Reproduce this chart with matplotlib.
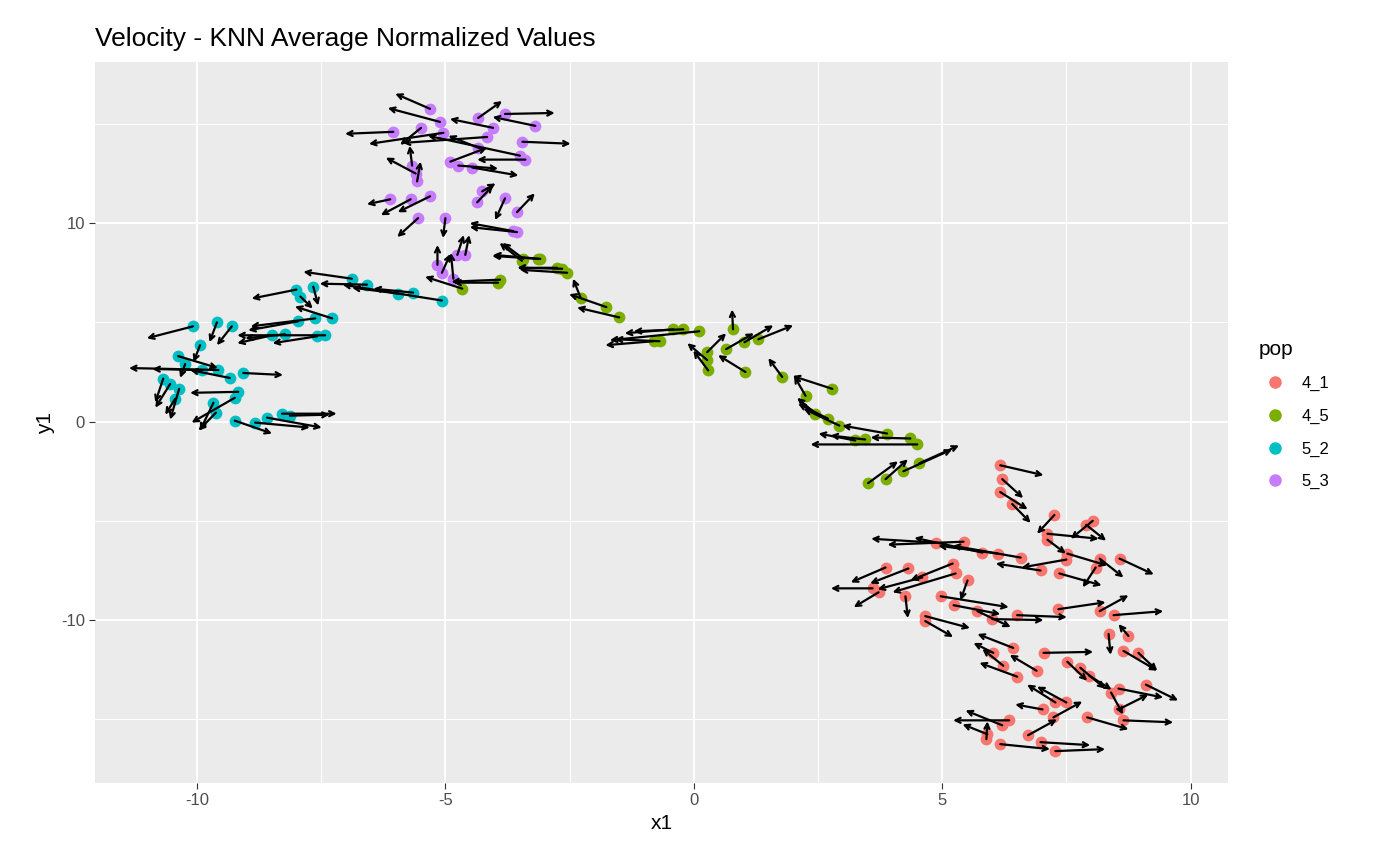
import matplotlib
matplotlib.use("Agg")
import matplotlib.pyplot as plt
from matplotlib.lines import Line2D
import numpy as np

plt.rcParams['font.family'] = ['Liberation Sans', 'DejaVu Sans']
plt.rcParams['axes.unicode_minus'] = False

pops = ["4_1", "4_5", "5_2", "5_3"]
colors = {"4_1": "#F8766D", "4_5": "#7CAE00", "5_2": "#00BFC4", "5_3": "#C77CFF"}

# 5_3 (purple)
x53 = [-5.31,-5.11,-5.49,-6.05,-5.04,-4.04,-4.16,-4.34,-3.80,-3.19,-3.45,-3.39,-3.50,-4.34,-5.67,-5.60,-5.57,
       -4.90,-4.74,-4.46,-6.11,-5.70,-5.31,-5.55,-5.00,-4.26,-4.36,-3.80,-3.56,-3.64,-3.56,-5.16,-5.07,-4.76,-4.60,-4.84]
y53 = [15.76,15.10,14.80,14.60,14.55,14.80,14.34,15.30,15.50,14.90,14.10,13.20,13.40,13.80,12.90,12.50,12.10,
       13.10,12.90,12.80,11.20,11.20,11.35,10.25,10.25,11.60,11.05,11.25,10.55,9.60,9.55,7.90,7.50,8.40,8.40,7.20]
dx53 = [-0.70,-1.05,-0.42,-0.97,-1.50,-0.87,-1.70,0.48,1.00,-0.86,0.97,-0.97,-1.85,-0.60,-0.05,-0.60,0.07,
        0.74,0.80,0.93,-0.47,-0.60,-0.65,-0.42,-0.05,0.27,0.32,-0.20,0.36,-0.87,-0.95,0.00,0.17,0.13,0.08,-0.05]
dy53 = [0.76,0.70,-0.86,-0.10,-0.56,0.45,-0.30,0.85,0.05,0.45,-0.10,0.00,1.00,0.60,1.00,0.80,1.00,
        0.70,-0.15,-0.40,-0.25,-0.80,-0.80,-0.95,-1.00,0.40,0.85,-1.10,0.95,0.40,0.25,1.00,0.95,1.00,1.00,1.30]

# 5_2 (cyan)
x52 = [-6.88,-6.58,-5.95,-5.65,-5.07,-8.00,-7.66,-7.92,-7.28,-7.62,-7.97,-7.42,-7.58,-8.23,-8.49,-10.08,-9.60,-9.30,
       -9.94,-10.38,-10.24,-9.90,-9.57,-9.34,-9.07,-10.68,-10.54,-10.36,-10.44,-9.17,-9.24,-9.67,-9.62,-9.24,-8.83,-8.59,-8.29,-8.13]
y52 = [7.20,6.90,6.45,6.50,6.10,6.65,6.80,6.30,5.20,5.20,5.05,4.35,4.30,4.40,4.35,4.80,5.00,4.80,
       3.85,3.30,2.90,2.60,2.60,2.20,2.45,2.17,1.90,1.65,1.15,1.50,1.20,0.95,0.45,0.05,-0.05,0.20,0.40,0.30]
dx52 = [-0.98,-0.95,-0.93,-0.80,-2.00,-0.90,0.10,0.25,-0.75,-1.30,-1.00,-1.77,-0.90,-0.80,-0.70,-0.93,-0.15,-0.30,
        -0.13,0.80,-0.10,-1.00,-1.80,-0.80,0.80,-0.16,-0.30,-0.18,-0.20,-0.97,-0.87,-0.27,-0.35,0.75,1.10,1.10,1.10,0.80]
dy52 = [0.35,0.05,0.30,0.20,0.80,-0.45,-0.95,-0.60,0.60,-0.40,-0.45,0.00,-0.35,-0.20,-0.40,-0.60,-1.00,-0.95,
        -0.85,-0.60,-0.70,0.05,0.10,0.40,-0.10,-1.20,-1.20,-1.55,-0.80,-0.05,-1.25,-1.40,-0.90,-0.65,-0.25,-0.50,0.00,0.05]

# 4_5 (green)
x45 = [-4.66,-3.94,-3.90,-3.43,-3.09,-2.65,-2.55,-3.13,-3.46,-2.75,-2.28,-1.76,-1.50,-0.41,-0.21,0.11,-0.81,-0.69,
       0.27,0.27,0.29,0.79,0.65,1.02,1.30,1.04,1.78,2.25,2.79,2.45,2.70,2.93,3.89,3.25,3.45,4.36,4.50,3.51,3.86,4.22,4.54]
y45 = [6.70,7.00,7.15,8.20,8.20,7.70,7.50,8.20,8.10,7.75,6.25,5.77,5.25,4.65,4.65,4.55,4.05,4.05,
       3.50,3.10,2.58,4.65,3.65,4.00,4.15,2.50,2.25,1.30,1.65,0.40,0.15,-0.20,-0.60,-0.95,-0.90,-0.85,-1.15,-3.10,-2.90,-2.50,-2.10]
dx45 = [-0.75,-0.90,-0.98,-0.42,-0.95,-0.90,-0.95,-0.93,-0.45,-0.80,-0.15,-0.75,-0.85,-0.98,-1.00,-1.80,-0.97,-0.90,
        0.38,-0.40,-0.30,-0.02,0.56,0.58,0.70,-0.55,-0.28,-0.23,-0.80,-0.37,-0.60,-0.72,-0.90,-0.74,-0.70,-0.80,-2.15,0.60,0.45,0.98,0.80]
dy45 = [0.60,0.00,-0.10,0.80,0.20,0.05,0.15,0.15,0.90,0.00,0.95,0.65,0.50,-0.20,-0.10,-0.45,-0.20,0.10,
        0.95,0.85,1.00,1.00,0.80,0.85,0.70,0.85,0.95,1.00,0.65,0.80,0.75,0.85,0.40,0.35,0.20,0.05,0.00,1.10,1.00,1.10,0.90]

# 4_1 (red)
x41 = [6.17,6.21,6.17,6.41,7.26,8.03,7.90,7.12,7.12,7.52,7.50,8.17,8.09,8.57,7.36,6.98,6.58,6.12,5.81,5.43,4.87,
       5.21,5.27,5.51,4.32,3.86,4.60,3.60,3.72,4.26,4.97,5.23,5.71,6.01,6.51,7.34,8.17,8.45,4.66,4.66,
       6.43,6.03,6.23,6.51,6.90,7.04,8.35,8.75,8.65,8.95,7.52,7.78,7.96,8.55,9.10,8.40,8.55,8.65,7.92,
       7.50,7.28,7.02,7.24,6.73,6.35,6.21,5.91,5.89,6.17,6.98,7.28]
y41 = [-2.20,-2.90,-3.55,-4.15,-4.70,-5.00,-5.20,-5.65,-5.95,-6.65,-6.95,-6.90,-7.35,-6.90,-7.65,-7.50,-6.85,-6.65,-6.60,-6.05,-6.10,
       -7.15,-7.65,-8.00,-7.40,-7.35,-7.85,-8.40,-8.60,-8.80,-8.80,-9.25,-9.55,-9.95,-9.75,-9.45,-9.55,-9.75,-9.80,-10.05,
       -11.40,-11.65,-12.30,-12.85,-12.55,-11.65,-10.70,-10.80,-11.55,-11.65,-12.10,-12.40,-12.80,-13.45,-13.25,-13.65,-14.50,-15.05,-14.90,
       -14.15,-14.15,-14.50,-14.90,-15.80,-15.05,-15.30,-15.75,-16.00,-16.25,-16.15,-16.60]
dx41 = [0.87,0.42,0.55,0.37,-0.35,-0.44,0.40,1.03,0.37,0.80,-0.90,0.48,-0.26,0.69,0.85,-0.90,-1.37,-1.20,-1.37,-1.53,-1.30,
        -0.85,-1.27,-0.14,-0.77,-0.70,-0.90,-0.84,-0.50,0.05,1.37,0.94,0.67,1.03,1.00,0.95,0.58,1.00,0.90,0.56,
        -0.72,-0.40,-0.42,-0.76,-0.54,1.00,0.04,-0.20,0.68,0.38,0.40,0.50,0.45,0.90,0.65,0.24,0.60,1.00,0.83,
        -0.59,-0.57,-0.55,0.58,0.58,-1.13,-0.74,-0.50,0.02,1.00,1.00,1.00]
dy41 = [-0.50,-0.95,-0.87,-0.95,-0.95,-0.90,-0.80,-0.25,-0.70,-0.60,-0.40,-0.95,-1.00,-0.80,-0.60,0.35,0.60,0.40,0.75,-0.15,0.20,
        -0.85,-0.95,-1.00,-0.75,-0.75,-0.60,0.00,-0.75,-1.10,-0.55,-0.45,-0.80,-0.05,-0.10,0.35,0.80,0.20,-0.60,-0.80,
        0.70,0.50,0.85,0.70,0.80,0.05,-1.05,0.60,-1.00,-0.90,-0.95,-1.05,-0.70,-0.45,-0.80,-1.10,0.75,-0.10,-0.60,
        0.80,0.90,0.25,0.80,0.80,0.00,0.75,0.50,0.90,-0.25,-0.15,0.10]

data = {"4_1": (x41, y41, dx41, dy41), "4_5": (x45, y45, dx45, dy45),
        "5_2": (x52, y52, dx52, dy52), "5_3": (x53, y53, dx53, dy53)}

fig = plt.figure(figsize=(14, 8.66), dpi=100)
ax = fig.add_axes([0.068, 0.096, 0.809, 0.832])
ax.set_facecolor("#EBEBEB")
ax.set_xlim(-12.05, 10.75)
ax.set_ylim(-18.2, 18.1)
ax.set_xticks([-10, -5, 0, 5, 10])
ax.set_yticks([-10, 0, 10])
ax.set_xticks([-7.5, -2.5, 2.5, 7.5], minor=True)
ax.set_yticks([-15, -5, 5, 15], minor=True)
ax.grid(True, which="major", color="white", linewidth=1.4)
ax.grid(True, which="minor", color="white", linewidth=0.7)
ax.set_axisbelow(True)
for s in ax.spines.values():
    s.set_visible(False)
ax.tick_params(which="both", length=4, color="#333333", labelsize=12, labelcolor="#4D4D4D")
ax.tick_params(which="minor", length=0)

for p in pops:
    xs, ys, dxs, dys = data[p]
    ax.scatter(xs, ys, s=72, color=colors[p], zorder=2, linewidths=0)
for p in pops:
    xs, ys, dxs, dys = data[p]
    for x, y, dx, dy in zip(xs, ys, dxs, dys):
        ax.annotate("", xy=(x + dx, y + dy), xytext=(x, y),
                    arrowprops=dict(arrowstyle="->", color="black", lw=1.6,
                                    mutation_scale=9, shrinkA=0, shrinkB=0), zorder=3)

ax.set_xlabel("x1", fontsize=15)
ax.set_ylabel("y1", fontsize=15)
ax.set_title("Velocity - KNN Average Normalized Values", fontsize=19, loc="left", x=0.0, pad=12)

handles = [Line2D([], [], marker="o", linestyle="", markersize=8, color=colors[p]) for p in pops]
leg = fig.legend(handles, pops, title="pop", loc="upper left", bbox_to_anchor=(0.888, 0.625),
                 frameon=False, fontsize=12, title_fontsize=15, handletextpad=0.6, labelspacing=1.05,
                 alignment="left")
plt.savefig("out.png", dpi=100)
